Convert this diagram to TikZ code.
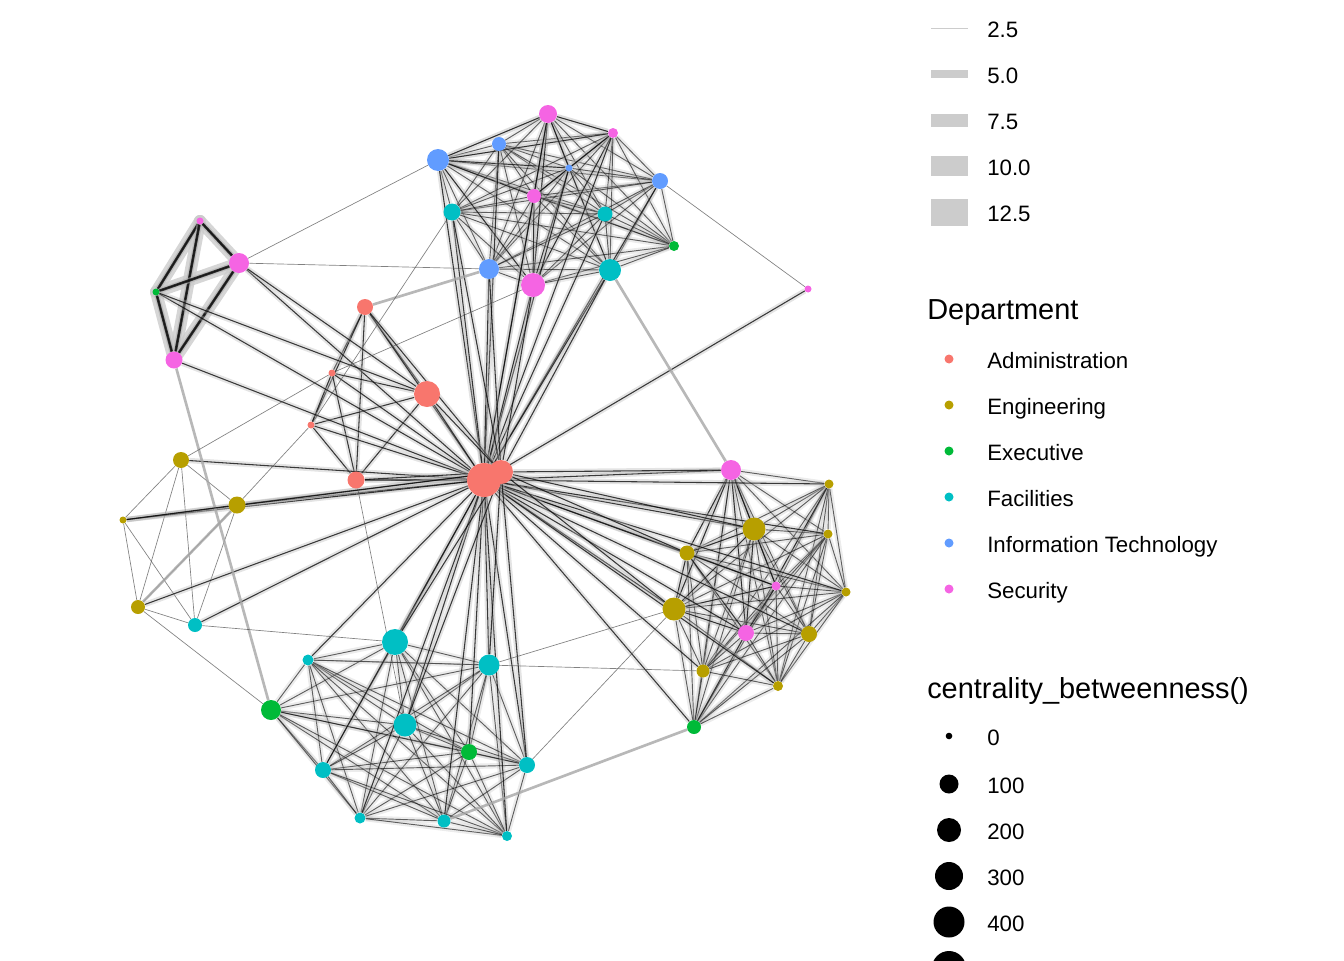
\documentclass[tikz,border=0pt]{standalone}
\usepackage{fontspec}
\setmainfont{Liberation Sans}
\usetikzlibrary{backgrounds}
\definecolor{adm}{HTML}{F8766D}
\definecolor{eng}{HTML}{B79F00}
\definecolor{exe}{HTML}{00BA38}
\definecolor{fac}{HTML}{00BFC4}
\definecolor{itc}{HTML}{619CFF}
\definecolor{sec}{HTML}{F564E3}
\definecolor{lgd}{HTML}{CCCCCC}
\tikzset{
  nd/.style 2 args={circle,fill=#1,inner sep=0pt,minimum size=#2*1.5pt},
  cl/.style={draw=black,line width=.7pt,draw opacity=.6,
    preaction={draw=black!30,line width=4pt,draw opacity=.25}},
  hb/.style={draw=black,line width=.8pt,draw opacity=.75,
    preaction={draw=black!30,line width=4pt,draw opacity=.35}},
  lt/.style={draw=black!70,line width=.5pt,draw opacity=.7},
  lg/.style={draw=black!35,line width=2pt,draw opacity=.8},
  band/.style={draw=black!20,line width=9pt,draw opacity=.8,line cap=round},
  lab/.style={anchor=base west,inner sep=0pt,font=\fontsize{16.7}{20}\selectfont},
  ttl/.style={anchor=base west,inner sep=0pt,font=\fontsize{21.7}{26}\selectfont}
}
\begin{document}
\begin{tikzpicture}[x=0.75pt,y=-0.75pt]
\useasboundingbox (0,0) rectangle (1344,960);

% top group
\node[nd={itc}{11}] (t1) at (438,160) {};
\node[nd={itc}{7}] (t2) at (499,144) {};
\node[nd={sec}{9}] (t3) at (548,114) {};
\node[nd={sec}{5}] (t4) at (613,133) {};
\node[nd={itc}{3.5}] (t5) at (569,168) {};
\node[nd={itc}{8}] (t6) at (660,181) {};
\node[nd={sec}{7}] (t7) at (534,196) {};
\node[nd={fac}{8.5}] (t8) at (452,212) {};
\node[nd={fac}{7.5}] (t9) at (605,214) {};
\node[nd={exe}{5}] (t10) at (674,246) {};
\node[nd={itc}{10}] (t11) at (489,269) {};
\node[nd={sec}{12}] (t12) at (533,285) {};
\node[nd={fac}{11}] (t13) at (610,270) {};
\node[nd={sec}{3.5}] (sx) at (808,289) {};
% left group
\node[nd={sec}{3.5}] (l1) at (200,221) {};
\node[nd={sec}{10}] (l2) at (239,263) {};
\node[nd={exe}{3.5}] (l3) at (156,292) {};
\node[nd={sec}{8.5}] (l4) at (174,360) {};
% administration
\node[nd={adm}{8}] (a1) at (365,307) {};
\node[nd={adm}{3.5}] (a2) at (332,373) {};
\node[nd={adm}{13}] (a3) at (427,394) {};
\node[nd={adm}{3.5}] (a4) at (311,425) {};
\node[nd={adm}{8.5}] (a5) at (356,480) {};
\node[nd={adm}{17}] (hub) at (484,480) {};
\node[nd={adm}{12}] (hubb) at (501,472) {};
% engineering, left
\node[nd={eng}{8}] (e1) at (181,460) {};
\node[nd={eng}{8.5}] (e2) at (237,505) {};
\node[nd={eng}{3.5}] (e3) at (123,520) {};
\node[nd={eng}{7}] (e4) at (138,607) {};
\node[nd={fac}{7}] (f1) at (195,625) {};
% bottom group
\node[nd={fac}{13}] (b1) at (395,642) {};
\node[nd={fac}{10.5}] (b2) at (489,665) {};
\node[nd={fac}{5.5}] (b3) at (308,660) {};
\node[nd={exe}{10}] (b4) at (271,710) {};
\node[nd={fac}{11.5}] (b5) at (405,725) {};
\node[nd={exe}{8}] (b6) at (469,752) {};
\node[nd={fac}{8}] (b7) at (527,765) {};
\node[nd={fac}{8}] (b8) at (323,770) {};
\node[nd={fac}{5.5}] (b9) at (360,818) {};
\node[nd={fac}{6.5}] (b10) at (444,821) {};
\node[nd={fac}{5}] (b11) at (507,836) {};
% right group
\node[nd={sec}{10}] (r1) at (731,470) {};
\node[nd={eng}{4.5}] (r2) at (829,484) {};
\node[nd={eng}{11.5}] (r3) at (754,529) {};
\node[nd={eng}{4.5}] (r4) at (828,534) {};
\node[nd={eng}{7.5}] (r5) at (687,553) {};
\node[nd={sec}{4.5}] (r6) at (776,586) {};
\node[nd={eng}{4.5}] (r7) at (846,592) {};
\node[nd={eng}{11.5}] (r8) at (674,609) {};
\node[nd={sec}{8}] (r9) at (746,633) {};
\node[nd={eng}{8}] (r10) at (809,634) {};
\node[nd={eng}{6.5}] (r11) at (703,671) {};
\node[nd={eng}{5}] (r12) at (778,686) {};
\node[nd={exe}{7}] (r13) at (694,727) {};

\begin{scope}[on background layer]
\foreach \a [count=\i] in {l1,l2,l3,l4}
  \foreach \b [count=\j] in {l1,l2,l3,l4}
    {\ifnum\j>\i \draw[band] (\a.center) -- (\b.center); \fi}
\foreach \a [count=\i] in {t1,t2,t3,t4,t5,t6,t7,t8,t9,t10,t11,t12,t13}
  \foreach \b [count=\j] in {t1,t2,t3,t4,t5,t6,t7,t8,t9,t10,t11,t12,t13}
    {\ifnum\j>\i \draw[cl] (\a) -- (\b); \fi}
\foreach \a [count=\i] in {t1,t3,t4,t5,t7,t12}
  \foreach \b [count=\j] in {t1,t3,t4,t5,t7,t12}
    {\ifnum\j>\i \draw[cl] (\a) -- (\b); \fi}
\foreach \a [count=\i] in {b1,b2,b3,b4,b5,b6,b7,b8,b9,b10,b11}
  \foreach \b [count=\j] in {b1,b2,b3,b4,b5,b6,b7,b8,b9,b10,b11}
    {\ifnum\j>\i \draw[cl] (\a) -- (\b); \fi}
\foreach \a [count=\i] in {r1,r2,r3,r4,r5,r6,r7,r8,r9,r10,r11,r12,r13}
  \foreach \b [count=\j] in {r1,r2,r3,r4,r5,r6,r7,r8,r9,r10,r11,r12,r13}
    {\ifnum\j>\i \draw[cl] (\a) -- (\b); \fi}
\foreach \a [count=\i] in {r1,r3,r5,r6,r8,r9}
  \foreach \b [count=\j] in {r1,r3,r5,r6,r8,r9}
    {\ifnum\j>\i \draw[cl] (\a) -- (\b); \fi}
\foreach \a [count=\i] in {l1,l2,l3,l4}
  \foreach \b [count=\j] in {l1,l2,l3,l4}
    {\ifnum\j>\i \draw[hb] (\a) -- (\b); \draw[hb,line width=2pt] (\a) -- (\b); \fi}
\foreach \a [count=\i] in {a1,a2,a3,a4,a5}
  \foreach \b [count=\j] in {a1,a2,a3,a4,a5}
    {\ifnum\j>\i \draw[hb] (\a) -- (\b); \fi}
\foreach \a [count=\i] in {e1,e2,e3,e4,f1}
  \foreach \b [count=\j] in {e1,e2,e3,e4,f1}
    {\ifnum\j>\i \draw[lt] (\a) -- (\b); \fi}

\foreach \n in {t1,t2,t3,t4,t5,t6,t7,t8,t9,t11,t12,t13,sx,l2,l3,l4,
    a1,a2,a3,a4,a5,e1,e2,e3,e4,f1,b1,b2,b3,b5,b6,b7,b8,b9,b10,b11,
    r1,r2,r3,r4,r5,r6,r7,r8,r9,r10,r11,r12,r13}
  \draw[hb] (hub) -- (\n);
\foreach \n in {t8,t11,t12,t13,a1,a3,a5,e2,e3,b1,b2,b5,b7,r1,r3,r5,r8}
  \draw[hb] (hubb) -- (\n);

\draw[lt] (l2) -- (t1);
\draw[lt] (l2) -- (t11);
\draw[lg] (l4) -- (b4);
\draw[hb] (l2) -- (a3);
\draw[hb] (l3) -- (a3);
\draw[lg] (a1) -- (t11);
\draw[lt] (a4) -- (t8);
\draw[lt] (a2) -- (t12);
\draw[lt] (e1) -- (a2);
\draw[lt] (e2) -- (a4);
\draw[lt] (f1) -- (b1);
\draw[lt] (e4) -- (b4);
\draw[lt] (a5) -- (b5);
\draw[hb] (e3) -- (e2);
\draw[lg] (e4) -- (e2);
\draw[lg] (b10) -- (r13);
\draw[lt] (b3) -- (r11);
\draw[lt] (b2) -- (r8);
\draw[lt] (b7) -- (r8);
\draw[lg] (r1) -- (t13);
\draw[lt] (t6) -- (sx);
\end{scope}

% legend: edge width
\foreach \w/\y/\t in {1/28/2.5,8/74/5.0,13/120/7.5,20/166/10.0,27/212/12.5} {
  \fill[lgd] (931,\y-\w/2) rectangle (968,\y+\w/2);
  \node[lab] (w\y) at (987,\y+9) {\t};
}
% legend: department
\node[ttl] (dept) at (927,319) {Department};
\foreach \c/\y/\t in {adm/359/Administration,eng/405/Engineering,exe/451/Executive,
    fac/497/Facilities,itc/543/Information Technology,sec/589/Security} {
  \node[nd={\c}{4.5}] (k\y) at (949,\y) {};
  \node[lab] at (987,\y+9) {\t};
}
% legend: betweenness
\node[ttl] (cent) at (927,698) {centrality\_betweenness()};
\foreach \r/\y/\t in {3.3/736/0,9.5/784/100,12/830/200,14/876/300,15.5/922/400} {
  \node[nd={black}{\r}] (s\y) at (949,\y) {};
  \node[lab] at (987,\y+9) {\t};
}
\node[nd={black}{17}] (s968) at (949,968) {};
\end{tikzpicture}
\end{document}
